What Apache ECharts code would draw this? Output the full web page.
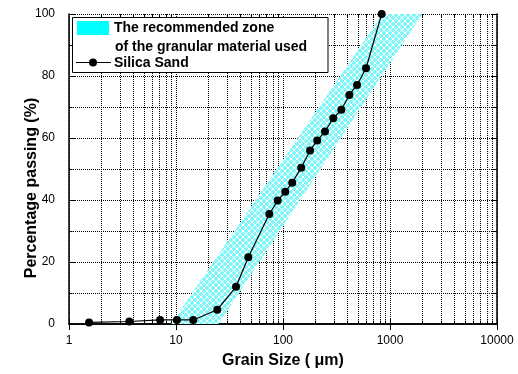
<!DOCTYPE html>
<html>
<head>
<meta charset="utf-8">
<title>Grain size distribution</title>
<script src="https://cdn.jsdelivr.net/npm/echarts@6/dist/echarts.min.js"></script>
<style>
  html, body { margin: 0; padding: 0; background: #fff; }
  #chart { width: 518px; height: 374px; }
</style>
</head>
<body>
<div id="chart"></div>
<script>
// Silica Sand
var grainSize = [1.54, 3.66, 7.1, 10.2, 14.5, 24.3, 36.4, 47.4, 74.5, 89.2, 105, 122, 148, 179, 209, 247, 295, 351, 417, 492, 597, 836];
var passing   = [0.5, 0.8, 1.3, 1.3, 1.3, 4.6, 12.0, 21.5, 35.5, 39.8, 42.7, 45.6, 50.4, 56.0, 59.2, 62.1, 66.4, 69.1, 73.9, 77.1, 82.5, 100];

// recommended zone outline: fine edge going up, coarse edge coming back down
var zoneFine   = [[9.0, 0], [850, 100]];
var zoneCoarse = [[2000, 100], [25, 0]];

var xTickLabels = ['1', '10', '100', '1000', '10000'];
var decades = [1, 10, 100, 1000];
var minorSteps = [2, 3, 4, 5, 6, 7, 8, 9];

var minorX = [];
decades.forEach(function (d) {
  minorSteps.forEach(function (m) { minorX.push([d * m, 0]); });
});

var FONT = '"Liberation Sans", Arial, sans-serif';
var dotted = { color: '#000', width: 1, type: [1, 1] };

// cyan fill with white diagonal cross hatch
function hatchPattern() {
  var n = 6;
  var c = document.createElement('canvas');
  c.width = n; c.height = n;
  var ctx = c.getContext('2d');
  var img = ctx.createImageData(n, n);
  for (var y = 0; y < n; y++) {
    for (var x = 0; x < n; x++) {
      var i = (y * n + x) * 4;
      var white = (x === y) || (x + y === n - 1);
      img.data[i] = white ? 255 : 125;
      img.data[i + 1] = white ? 255 : 247;
      img.data[i + 2] = white ? 255 : 247;
      img.data[i + 3] = 255;
    }
  }
  ctx.putImageData(img, 0, 0);
  return { image: c, repeat: 'repeat' };
}

var zonePoly = zoneFine.concat(zoneCoarse);
var sand = grainSize.map(function (g, i) { return [g, passing[i]]; });

var chart = echarts.init(document.getElementById('chart'));

var option = {
  backgroundColor: '#fff',
  animation: false,
  textStyle: { fontFamily: FONT, color: '#000' },
  grid: { left: 69, right: 21, top: 14, bottom: 48 },
  xAxis: [{
    type: 'log',
    logBase: 10,
    min: 1,
    max: 10000,
    name: 'Grain Size ( μm)',
    nameLocation: 'middle',
    nameGap: 29,
    nameMoveOverlap: false,
    nameTextStyle: { fontFamily: FONT, fontSize: 16, fontWeight: 'bold', color: '#000' },
    axisLine: { lineStyle: { color: '#000', width: 1.5 } },
    axisTick: { inside: true, length: 6, lineStyle: { color: '#000' } },
    axisLabel: {
      margin: 11, fontSize: 12, color: '#000', fontFamily: FONT,
      formatter: function (v) { return xTickLabels[Math.round(Math.log10(v))]; }
    },
    splitLine: { show: true, lineStyle: dotted }
  }, {
    type: 'log',
    logBase: 10,
    min: 1,
    max: 10000,
    position: 'top',
    axisLine: { lineStyle: { color: '#000', width: 1.5 } },
    axisTick: { inside: true, length: 6, lineStyle: { color: '#000' } },
    axisLabel: { show: false },
    splitLine: { show: false }
  }],
  yAxis: [{
    type: 'value',
    min: 0,
    max: 100,
    interval: 20,
    name: 'Percentage passing (%)',
    nameLocation: 'middle',
    nameGap: 29,
    nameMoveOverlap: false,
    nameTextStyle: {
      fontFamily: FONT, fontSize: 16, fontWeight: 'bold', color: '#000',
      padding: [0, 38, 0, 0]
    },
    axisLine: { show: true, lineStyle: { color: '#000', width: 1.5 } },
    axisTick: { show: true, inside: true, length: 6, lineStyle: { color: '#000' } },
    minorTick: { show: true, splitNumber: 2, length: 3.5, lineStyle: { color: '#000' } },
    axisLabel: { margin: 14, fontSize: 12, color: '#000', fontFamily: FONT },
    splitLine: { show: true, lineStyle: dotted },
    minorSplitLine: { show: true, lineStyle: dotted }
  }, {
    type: 'value',
    min: 0,
    max: 100,
    interval: 20,
    position: 'right',
    axisLine: { show: true, lineStyle: { color: '#000', width: 1.5 } },
    axisTick: { show: true, inside: true, length: 6, lineStyle: { color: '#000' } },
    minorTick: { show: true, splitNumber: 2, length: 3.5, lineStyle: { color: '#000' } },
    axisLabel: { show: false },
    splitLine: { show: false }
  }],
  graphic: [
    {
      type: 'rect', z: 100,
      shape: { x: 72.5, y: 17.5, width: 255.5, height: 55 },
      style: { fill: '#fff', stroke: '#000', lineWidth: 1 }
    },
    {
      type: 'rect', z: 101,
      shape: { x: 77, y: 21, width: 32, height: 14 },
      style: { fill: '#00ffff' }
    },
    {
      type: 'text', z: 101, x: 114, y: 28,
      style: { text: 'The recommended zone', font: 'bold 14px ' + FONT, fill: '#000', verticalAlign: 'middle' }
    },
    {
      type: 'text', z: 101, x: 115, y: 47,
      style: { text: 'of the granular material used', font: 'bold 14px ' + FONT, fill: '#000', verticalAlign: 'middle' }
    },
    {
      type: 'line', z: 101,
      shape: { x1: 76, y1: 62.5, x2: 111, y2: 62.5 },
      style: { stroke: '#000', lineWidth: 1.2 }
    },
    {
      type: 'circle', z: 102,
      shape: { cx: 93, cy: 62.5, r: 4 },
      style: { fill: '#000' }
    },
    {
      type: 'text', z: 101, x: 114, y: 63,
      style: { text: 'Silica Sand', font: 'bold 14px ' + FONT, fill: '#000', verticalAlign: 'middle' }
    }
  ],
  series: [
    {
      // minor log grid lines with inward ticks on bottom and top
      type: 'custom',
      silent: true,
      z: 1,
      data: minorX,
      renderItem: function (params, api) {
        var b = api.coord([api.value(0), 0]);
        var t = api.coord([api.value(0), 100]);
        var x = Math.round(b[0]) + 0.5;
        return {
          type: 'group',
          children: [
            { type: 'line', shape: { x1: x, y1: b[1], x2: x, y2: t[1] },
              style: { stroke: '#000', lineWidth: 1, lineDash: [1, 1] } },
            { type: 'line', shape: { x1: x, y1: b[1], x2: x, y2: b[1] - 3.5 },
              style: { stroke: '#000', lineWidth: 1 } },
            { type: 'line', shape: { x1: x, y1: t[1], x2: x, y2: t[1] + 3.5 },
              style: { stroke: '#000', lineWidth: 1 } }
          ]
        };
      }
    },
    {
      name: 'The recommended zone',
      type: 'custom',
      silent: true,
      z: 2,
      data: zonePoly,
      renderItem: function (params, api) {
        if (params.dataIndex !== 0) return;
        var pts = zonePoly.map(function (p) { return api.coord(p); });
        return { type: 'polygon', shape: { points: pts }, style: { fill: hatchPattern() } };
      }
    },
    {
      name: 'Silica Sand',
      type: 'line',
      z: 3,
      data: sand,
      symbol: 'circle',
      symbolSize: 8,
      itemStyle: { color: '#000' },
      lineStyle: { color: '#000', width: 1.2 }
    }
  ]
};

chart.setOption(option);
</script>
</body>
</html>
